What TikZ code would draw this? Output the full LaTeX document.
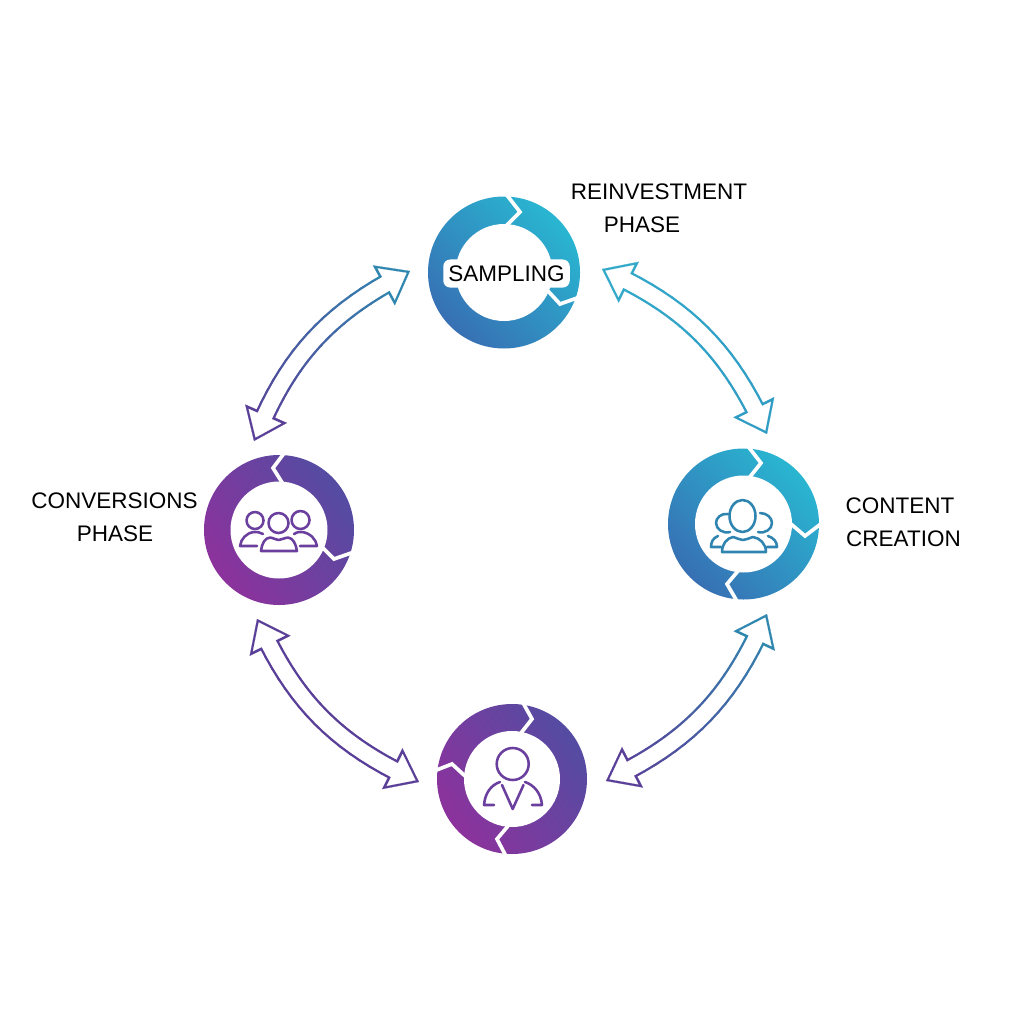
\documentclass[tikz,border=0pt]{standalone}
\usepackage{fontspec}
\setmainfont{Liberation Sans}
\usetikzlibrary{arrows.meta,calc}
\definecolor{tealA}{HTML}{29B6D1}
\definecolor{blueA}{HTML}{3770B4}
\definecolor{violetA}{HTML}{544CA2}
\definecolor{plumA}{HTML}{8C329C}
\definecolor{arTeal}{HTML}{33A9CA}
\definecolor{arTealB}{HTML}{2F9CC4}
\definecolor{arBlue}{HTML}{2F87B0}
\definecolor{arPurple}{HTML}{5A3F98}
\definecolor{iconBlue}{HTML}{2F84B0}
\definecolor{iconPurple}{HTML}{6A3F9E}
\tikzset{
  ringanchor/.style={circle,inner sep=0pt,minimum size=4pt},
  tealring/.style={top color=tealA,bottom color=blueA,shading angle=-45},
  violetring/.style={top color=violetA,bottom color=plumA,shading angle=-55},
  notch/.style={draw=white,line width=2.1pt,miter limit=10},
  label/.style={inner sep=0pt,anchor=base,text=black,font=\fontsize{12.8pt}{14pt}\selectfont},
  iconline/.style={line width=1.45pt,line cap=round,line join=round},
}
\newcommand{\blockarrow}[6]{%
  \foreach \i in {0,...,20}{%
    \pgfmathsetmacro{\t}{\i/20}%
    \path (#2) to[#4] coordinate[pos=\t] (#1c\i) (#3);
  }%
  \draw[line width=11.5pt,color=#5] (#1c2) -- (#1c3);
  \draw[line width=11.5pt,color=#6] (#1c17) -- (#1c18);
  \foreach \i in {3,...,16}{%
    \pgfmathtruncatemacro{\j}{\i+1}%
    \pgfmathtruncatemacro{\p}{\i*100/19}%
    \draw[line width=11.5pt,line cap=round,color=#6!\p!#5] (#1c\i) -- (#1c\j);
  }%
  \draw[line width=.1pt,color=#5,-{Triangle[length=17pt,width=26pt]}] (#1c3) -- (#1c0);
  \draw[line width=.1pt,color=#6,-{Triangle[length=17pt,width=26pt]}] (#1c17) -- (#1c20);
  \draw[line width=.1pt,color=white,shorten >=2.2pt,-{Triangle[length=13.3pt,width=20.4pt]}] (#1c3) -- (#1c0);
  \draw[line width=.1pt,color=white,shorten >=2.2pt,-{Triangle[length=13.3pt,width=20.4pt]}] (#1c17) -- (#1c20);
  \draw[line width=8.8pt,color=white,line join=round] (#1c2) \foreach \i in {3,...,18}{ -- (#1c\i)};
}
\begin{document}
\begin{tikzpicture}[x=0.02cm,y=-0.02cm]
\useasboundingbox (0,0) rectangle (1024,1024);
\fill[white] (0,0) rectangle (1024,1024);

% ring centres
\node[ringanchor] (top) at (504,272.5) {};
\node[ringanchor] (right) at (743.5,524) {};
\node[ringanchor] (left) at (279,530) {};
\node[ringanchor] (bottom) at (512,779) {};

% rings
\shade[tealring] (top) circle[radius=76];
\fill[white] (top) circle[radius=48.5];
\shade[tealring] (right) circle[radius=75.5];
\fill[white] (right) circle[radius=48.5];
\shade[violetring] (left) circle[radius=75];
\fill[white] (left) circle[radius=48.5];
\shade[violetring] (bottom) circle[radius=75];
\fill[white] (bottom) circle[radius=48];

% notches
\draw[notch] (506,194) -- (520,212) -- (506,226);
\draw[notch] (548,291) -- (560,304) -- (580,297);
\draw[notch] (747,445) -- (761,463) -- (749,478);
\draw[notch] (791,524) -- (805,536) -- (822,523);
\draw[notch] (738,571) -- (727,584) -- (738,603);
\draw[notch] (285,452) -- (273,468) -- (283,484);
\draw[notch] (322,547) -- (334,559) -- (354,552);
\draw[notch] (522,701) -- (532,719) -- (521,733);
\draw[notch] (465,776) -- (452,764) -- (434,771);
\draw[notch] (508,826) -- (497,839) -- (507,858);

% connectors
\coordinate (a1) at ($(top)+(98,-3.5)$);
\coordinate (b1) at ($(right)+(23.5,-90)$);
\coordinate (a2) at ($(top)+(-94,-1.5)$);
\coordinate (b2) at ($(left)+(-25,-89)$);
\coordinate (a3) at ($(left)+(-22,89)$);
\coordinate (b3) at ($(bottom)+(-93,3)$);
\coordinate (a4) at ($(right)+(23.5,90)$);
\coordinate (b4) at ($(bottom)+(94,2)$);
\blockarrow{ra}{a1}{b1}{bend left=21}{arTeal}{arTealB}
\blockarrow{la}{a2}{b2}{bend right=21}{arBlue}{arPurple}
\blockarrow{da}{a3}{b3}{bend right=21}{arPurple}{arPurple}
\blockarrow{ea}{a4}{b4}{bend left=21}{arBlue}{arPurple}

% labels
\node[label,fill=white,rounded corners=4pt,anchor=center,minimum width=72pt,minimum height=16pt] (sampling) at (506.5,273.5) {SAMPLING};
\node[label] (reinv) at (659,199) {REINVESTMENT};
\node[label] (reinvb) at (642,232) {PHASE};
\node[label] (conv) at (114.5,508) {CONVERSIONS};
\node[label] (convb) at (115,541) {PHASE};
\node[label] (cont) at (900,513) {CONTENT};
\node[label] (contb) at (903.5,546) {CREATION};

% right icon: group
\begin{scope}[iconline]
\draw[iconBlue] (742.5,516) ellipse[x radius=13,y radius=16];
\draw[iconBlue] (722,552) .. controls (722,544) and (727,538) .. (733,537) .. controls (737,538) and (740,540) .. (743,540) .. controls (746,540) and (749,538) .. (753,537) .. controls (760,538) and (766,544) .. (766,552) -- cycle;
\draw[iconBlue] (728,514) .. controls (721,513) and (716,518) .. (716,523) .. controls (716,529) and (723,534) .. (730,532);
\draw[iconBlue] (760,513) .. controls (767,513) and (772,518) .. (772,523) .. controls (772,529) and (765,534) .. (758,532);
\draw[iconBlue] (718,536) .. controls (713,538) and (711,542) .. (711,547) -- (721,547);
\draw[iconBlue] (768,536) .. controls (774,538) and (777,542) .. (777,547) -- (767,547);
\end{scope}

% left icon: three people
\begin{scope}[iconline]
\draw[iconPurple] (255,520.5) circle[radius=8.5];
\draw[iconPurple] (278.5,523) circle[radius=10];
\draw[iconPurple] (300.5,520) circle[radius=9];
\draw[iconPurple] (261,551) .. controls (262,543) and (265,538) .. (270,537.5) .. controls (274,538) and (276,540) .. (278.5,540) .. controls (281,540) and (284,538) .. (288,537.5) .. controls (293,538) and (296,544) .. (297,551) -- cycle;
\draw[iconPurple] (263,534) .. controls (260,532) and (257,532) .. (254,532) .. controls (246,533) and (241,539) .. (240,546) -- (257,546);
\draw[iconPurple] (294,534) .. controls (296,532) and (299,532) .. (302,532) .. controls (310,533) and (316,539) .. (317,546) -- (300,546);
\end{scope}

% bottom icon: person
\begin{scope}[iconline]
\draw[iconPurple] (512.7,764) circle[radius=16];
\draw[iconPurple] (500,782) .. controls (491,785) and (485,793) .. (484,805) -- (494,805);
\draw[iconPurple] (525,782) .. controls (534,785) and (541,793) .. (542,805) -- (532,805);
\draw[iconPurple] (502,785) -- (512.7,809) -- (523.5,785);
\end{scope}
\end{tikzpicture}
\end{document}
